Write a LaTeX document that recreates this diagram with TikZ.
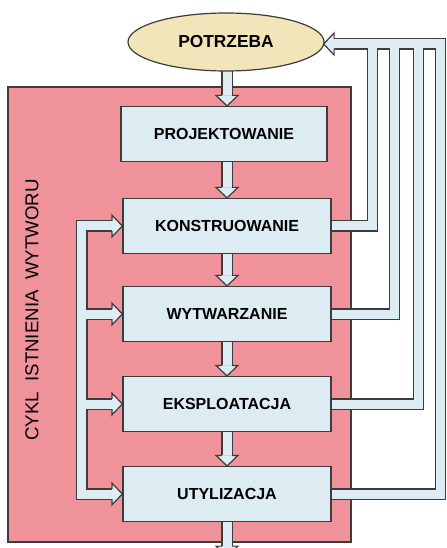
\documentclass[tikz,border=0pt]{standalone}
\usepackage{fontspec}
\setmainfont{Liberation Sans}
\usetikzlibrary{calc, shapes.geometric, backgrounds}

\definecolor{framered}{RGB}{240,146,154}
\definecolor{boxblue}{RGB}{221,236,243}
\definecolor{needtan}{RGB}{242,229,185}
\definecolor{edgegray}{RGB}{60,60,60}

\begin{document}
\begin{tikzpicture}[x=0.75pt, y=-0.75pt, stage/.style={draw=edgegray, line width=0.9pt, fill=boxblue, minimum width=156pt, minimum height=41.25pt, inner sep=0pt, font=\bfseries\fontsize{12}{14}\selectfont}, need/.style={ellipse, draw=edgegray, line width=0.9pt, fill=needtan, minimum width=147pt, minimum height=43.5pt, inner sep=0pt, font=\bfseries\fontsize{13}{15}\selectfont}, head/.style={draw=edgegray, line width=0.9pt, fill=boxblue, line join=miter}]

\useasboundingbox (0,0) rectangle (446,548);

\node[need] (potrzeba) at (226,42) {POTRZEBA};
\node[stage, minimum width=154.5pt] (proj) at (224,134) {PROJEKTOWANIE};
\node[stage] (konstr) at (227,226) {KONSTRUOWANIE};
\node[stage] (wytw) at (227,314) {WYTWARZANIE};
\node[stage] (eksp) at (227,404) {EKSPLOATACJA};
\node[stage] (utyl) at (227,494) {UTYLIZACJA};
\node[rotate=90, font=\fontsize{14}{16}\selectfont] (cykl) at (32,310) {CYKL\ \ ISTNIENIA\ \ WYTWORU};

\begin{scope}[on background layer]
% frame of the life cycle
\draw[draw=edgegray, line width=1.1pt, fill=framered] (8,87) rectangle (351,542);
\coordinate (ret) at ($(potrzeba.east)+(-1,2)$);
% hollow pipes: dark stroke first, then the light inside
\foreach \w/\c in {8.6pt/edgegray, 6.75pt/boxblue} {
  \draw[line width=\w, draw=\c] ($(potrzeba.south -| konstr.north)+(0,-4)$) -- ($(proj.north -| konstr.north)+(0,-10.5)$);
  \draw[line width=\w, draw=\c] (proj.south -| konstr.north) -- ($(konstr.north)+(0,-10.5)$);
  \foreach \a/\b in {konstr/wytw, wytw/eksp, eksp/utyl}
    \draw[line width=\w, draw=\c] (\a.south) -- ($(\b.north)+(0,-10.5)$);
  \draw[line width=\w, draw=\c] (utyl.south) -- ++(0,24);
  % back to the earlier stages
  \draw[line width=\w, draw=\c] ($(konstr.west)+(-10.5,0)$) -- ++(-30,0) |- ($(utyl.west)+(-10.5,0)$);
  \foreach \b in {wytw, eksp}
    \draw[line width=\w, draw=\c] ($(\b.west)+(-40.5,0)$) -- ++(30,0);
  % back to the need
  \foreach \b/\d in {konstr/49, wytw/71, eksp/95, utyl/117}
    \draw[line width=\w, draw=\c] (\b.east) -| ($(ret)+(\d,0)$) -- ($(ret)+(10.5,0)$);
}
% arrow heads
\foreach \t/\r in {proj.north -| konstr.north/0, konstr.north/0, wytw.north/0, eksp.north/0, utyl.north/0, konstr.west/90, wytw.west/90, eksp.west/90, utyl.west/90, ret/-90}
  \filldraw[head, shift={(\t)}, rotate=\r] (-5.1,-10.5) -- (-11,-10.5) -- (0,0) -- (11,-10.5) -- (5.1,-10.5);
\filldraw[head, shift={($(utyl.south)+(0,34.5)$)}] (-5.1,-10.5) -- (-11,-10.5) -- (0,0) -- (11,-10.5) -- (5.1,-10.5);
\end{scope}
\end{tikzpicture}
\end{document}
